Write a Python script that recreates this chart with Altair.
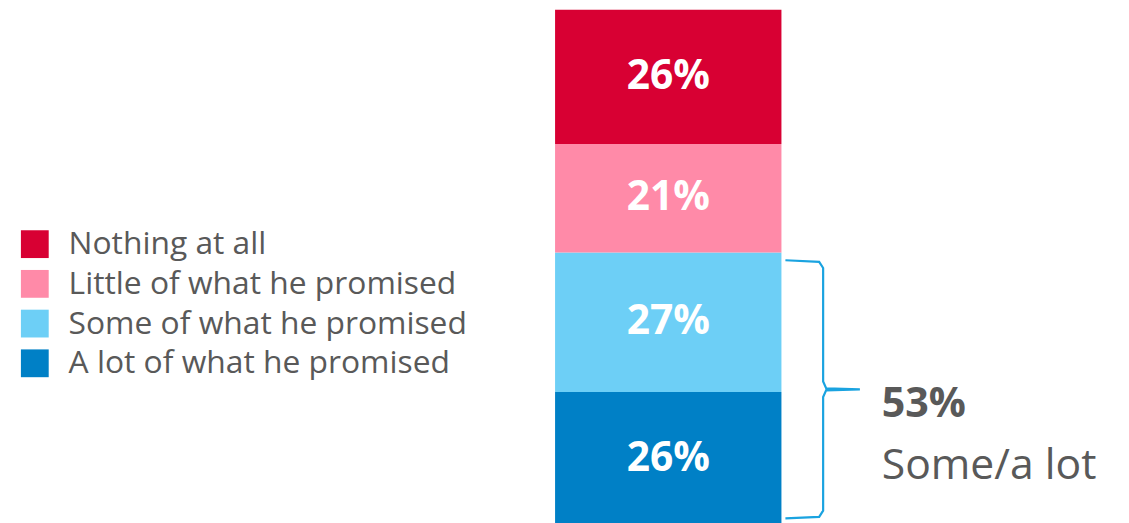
import altair as alt
import pandas as pd

categories = ["A lot of what he promised", "Some of what he promised",
              "Little of what he promised", "Nothing at all"]
values = [26, 27, 21, 26]
stack_order = [0, 1, 2, 3]
legend_order = ["Nothing at all", "Little of what he promised",
                "Some of what he promised", "A lot of what he promised"]
colors = ["#D80033", "#FF8AA8", "#6DCFF6", "#0080C6"]

summary_value = values[0] + values[1]
summary_label = "Some/a lot"

W, H = 1121, 515
FONT = "Open Sans"
GREY = "#595959"

df = pd.DataFrame({"cat": categories, "val": values, "ord": stack_order})

yscale = alt.Scale(domain=[0, 100], range=[520, 0], nice=False, zero=True)
xscale = alt.Scale(domain=[0, W], range=[0, W], nice=False, zero=False)

base = alt.Chart(df).transform_window(
    v1="sum(val)", sort=[alt.SortField("ord")], frame=[None, 0]
).transform_calculate(
    v0="datum.v1 - datum.val",
    mid="datum.v1 - datum.val / 2",
    txt="datum.val + '%'"
)

bars = base.mark_rect().encode(
    x=alt.value(551), x2=alt.value(779),
    y=alt.Y("v0:Q", scale=yscale, axis=None),
    y2="v1:Q",
    color=alt.Color("cat:N", scale=alt.Scale(domain=legend_order, range=colors),
                    legend=alt.Legend(title=None, orient="none", legendX=11, legendY=220,
                                      symbolType="square", symbolSize=784,
                                      symbolStrokeWidth=0, symbolOpacity=1,
                                      labelFontSize=32, labelFont=FONT,
                                      labelColor=GREY, labelOffset=18,
                                      rowPadding=8, padding=0, labelLimit=600)),
)

labels = base.mark_text(font=FONT, fontSize=41, fontWeight="bold", color="white",
                        baseline="middle", align="center").encode(
    x=alt.value(665),
    y=alt.Y("mid:Q", scale=yscale),
    text="txt:N",
)

# brace spanning the two blue segments
top = summary_value - 1.5
bot = 1.5
mid = summary_value / 2
brace_df = pd.DataFrame({
    "i": list(range(11)),
    "bx": [783, 817, 821, 821, 824, 858, 824, 821, 821, 817, 783],
    "by": [top, top - 0.3, top - 1.5, mid + 1.5, mid + 0.2, mid,
           mid - 0.2, mid - 1.5, bot + 1.5, bot + 0.3, bot],
})
brace = alt.Chart(brace_df).mark_line(color="#1AA3E0", strokeWidth=2.2).encode(
    x=alt.X("bx:Q", scale=xscale, axis=None),
    y=alt.Y("by:Q", scale=yscale),
    order=alt.Order("i:Q"),
)

ann_df = pd.DataFrame({"t1": [f"{summary_value}%"], "t2": [summary_label], "m": [mid]})
ann1 = alt.Chart(ann_df).mark_text(font=FONT, fontSize=41.5, fontWeight="bold", color=GREY,
                                   align="left", baseline="alphabetic", dy=28).encode(
    x=alt.value(880), y=alt.Y("m:Q", scale=yscale), text="t1:N")
ann2 = alt.Chart(ann_df).mark_text(font=FONT, fontSize=43, color=GREY,
                                   align="left", baseline="alphabetic", dy=90).encode(
    x=alt.value(880), y=alt.Y("m:Q", scale=yscale), text="t2:N")

chart = alt.layer(bars, labels, brace, ann1, ann2).properties(
    width=W, height=H, padding=0, autosize=alt.AutoSizeParams(type="none")
).configure(background="white").configure_view(strokeWidth=0, stroke=None)

chart.save("out.html", embed_options={"renderer": "svg", "actions": False})
